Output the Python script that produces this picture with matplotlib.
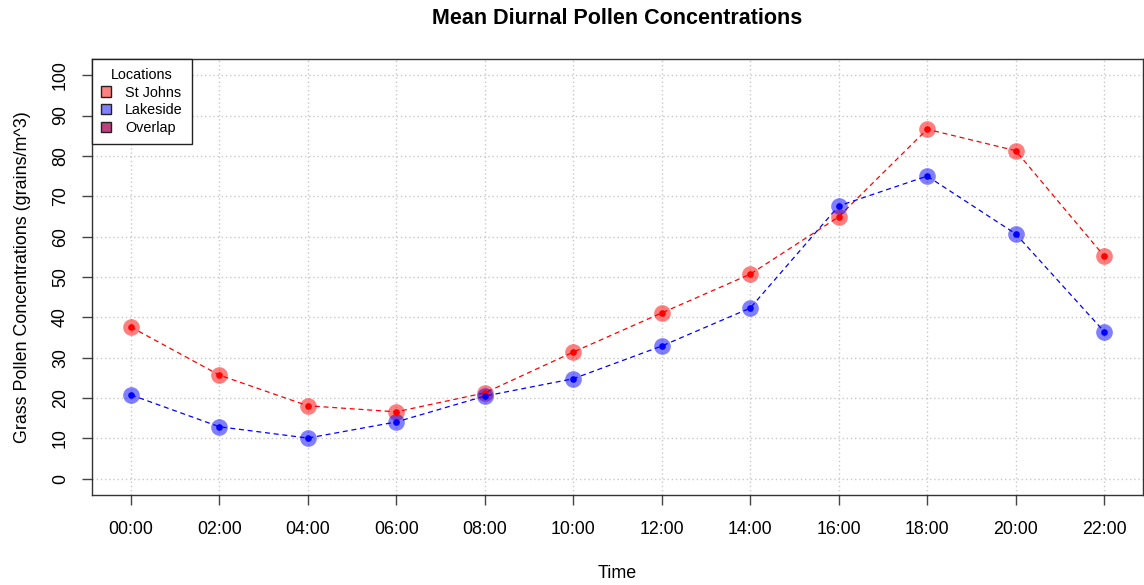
import matplotlib
matplotlib.use("Agg")
import matplotlib.pyplot as plt
from matplotlib.patches import Patch

plt.rcParams['font.family'] = ['Liberation Sans', 'DejaVu Sans']

hours = [0, 2, 4, 6, 8, 10, 12, 14, 16, 18, 20, 22]
time_labels = ["00:00", "02:00", "04:00", "06:00", "08:00", "10:00",
               "12:00", "14:00", "16:00", "18:00", "20:00", "22:00"]
st_johns = [37.6, 25.7, 18.1, 16.6, 21.3, 31.4, 41.1, 50.7, 64.9, 86.6, 81.3, 55.2]
lakeside = [20.8, 12.9, 10.1, 14.1, 20.5, 24.8, 32.9, 42.3, 67.6, 75.0, 60.7, 36.5]
y_ticks = list(range(0, 101, 10))

fig = plt.figure(figsize=(11.44, 5.85), dpi=100)
ax = fig.add_axes([92/1144, 1 - 495/585, (1143 - 92)/1144, (495 - 59)/585])

ax.set_xlim(-0.88, 22.88)
ax.set_ylim(-4, 104)

for h in hours:
    ax.axvline(h, color='#c8c8c8', lw=1, ls=(0, (1, 2)), zorder=0)
for y in y_ticks:
    ax.axhline(y, color='#c8c8c8', lw=1, ls=(0, (1, 2)), zorder=0)

for vals, col in [(st_johns, 'red'), (lakeside, 'blue')]:
    ax.plot(hours, vals, color=col, lw=0.9, ls=(0, (4, 3)), zorder=2)
    ax.plot(hours, vals, 'o', color=col, alpha=0.5, ms=12, mew=0, zorder=3)
    ax.plot(hours, vals, 'o', color=col, ms=4.8, mew=0, zorder=4)

ax.set_xticks(hours)
ax.set_xticklabels(time_labels, fontsize=12.8)
ax.set_yticks(y_ticks)
ax.set_yticklabels([str(v) for v in y_ticks], fontsize=12.8, rotation=90, va='center')
ax.tick_params(axis='both', direction='out', length=7, width=1, color='#444444')
ax.tick_params(axis='x', pad=11.5)
ax.tick_params(axis='y', pad=9.5)
for s in ax.spines.values():
    s.set_color('#333333')
    s.set_linewidth(1)

ax.set_xlabel("Time", fontsize=12.9, labelpad=19.5)
ax.set_ylabel("Grass Pollen Concentrations (grains/m^3)", fontsize=12.9, labelpad=15.5)
fig.text(617/1144, 1 - 18/585, "Mean Diurnal Pollen Concentrations",
         fontsize=15.5, fontweight='bold', ha='center', va='center')

handles = [Patch(facecolor='#ff8080', edgecolor='#222222', label='St Johns'),
           Patch(facecolor='#8080ff', edgecolor='#222222', label='Lakeside'),
           Patch(facecolor='#bf4080', edgecolor='#222222', label='Overlap')]
leg = ax.legend(handles=handles, title='Locations', loc='upper left',
                bbox_to_anchor=(0, 1), borderaxespad=0, fontsize=10.4,
                title_fontsize=10.4, frameon=True, fancybox=False,
                handlelength=0.7, handleheight=0.7, handletextpad=1.0,
                labelspacing=0.27, borderpad=0.6)
leg.get_frame().set_edgecolor('#222222')
leg.get_frame().set_linewidth(1)
leg.get_frame().set_alpha(1)

fig.savefig("out.png", dpi=100)
